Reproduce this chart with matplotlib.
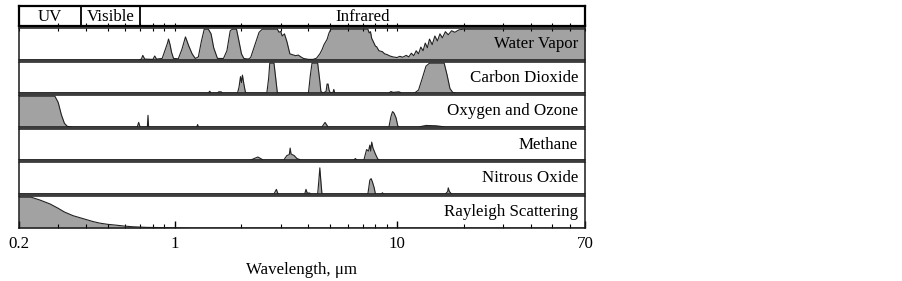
import matplotlib
matplotlib.use("Agg")
import matplotlib.pyplot as plt
from matplotlib.patches import Rectangle
from matplotlib.ticker import FixedLocator, NullFormatter, FixedFormatter

# ---------------- data (wavelength in micrometres, relative absorption 0..1) ----------------
water_wl = [0.2, 0.69, 0.71, 0.72, 0.735, 0.80, 0.815, 0.83, 0.88, 0.90, 0.93, 0.94, 0.955, 0.97,
            0.99, 1.04, 1.08, 1.12, 1.14, 1.16, 1.20, 1.24, 1.28, 1.32, 1.36, 1.42, 1.46, 1.50,
            1.56, 1.66, 1.72, 1.78, 1.82, 1.90, 1.95, 2.00, 2.05, 2.15, 2.20, 2.30, 2.40, 2.48,
            2.90, 2.95, 3.00, 3.05, 3.12, 3.20, 3.30, 3.40, 3.50, 3.60, 3.70, 3.80, 4.00, 4.20,
            4.35, 4.50, 4.60, 4.70, 4.85, 4.95, 5.05, 7.40, 7.50, 7.60, 7.70, 7.80, 8.00, 8.10,
            8.30, 8.60, 8.80, 9.00, 9.30, 9.60, 10.0, 10.3, 10.6, 11.0, 11.3, 11.6, 11.9, 12.2,
            12.5, 12.8, 13.1, 13.4, 13.7, 14.0, 14.4, 14.8, 15.2, 15.6, 16.0, 16.5, 17.0, 17.6,
            18.2, 19.0, 19.8, 70.0]
water_ab = [0.0, 0.0, 0.03, 0.15, 0.03, 0.02, 0.13, 0.03, 0.05, 0.25, 0.55, 0.68, 0.50, 0.25,
            0.05, 0.04, 0.35, 0.75, 0.60, 0.45, 0.20, 0.05, 0.10, 0.60, 1.0, 1.0, 0.85, 0.40,
            0.05, 0.05, 0.30, 0.95, 1.0, 1.0, 0.60, 0.20, 0.05, 0.03, 0.08, 0.50, 0.90, 1.0,
            1.0, 0.90, 0.93, 0.78, 0.85, 0.60, 0.20, 0.17, 0.14, 0.16, 0.10, 0.05, 0.02, 0.02,
            0.06, 0.20, 0.33, 0.50, 0.67, 0.88, 1.0, 1.0, 0.88, 0.92, 0.70, 0.62, 0.45, 0.43,
            0.30, 0.27, 0.20, 0.18, 0.13, 0.10, 0.08, 0.12, 0.09, 0.15, 0.10, 0.22, 0.14, 0.30,
            0.20, 0.42, 0.30, 0.55, 0.40, 0.68, 0.50, 0.78, 0.62, 0.85, 0.72, 0.92, 0.82, 0.95,
            0.90, 0.98, 1.0, 1.0]

co2_wl = [0.2, 1.42, 1.44, 1.46, 1.56, 1.58, 1.62, 1.64, 1.92, 1.95, 1.98, 2.00, 2.02, 2.05, 2.08,
          2.10, 2.60, 2.65, 2.68, 2.80, 2.85, 2.90, 4.00, 4.08, 4.15, 4.40, 4.50, 4.55, 4.65,
          4.80, 4.85, 4.90, 4.95, 5.00, 5.15, 5.20, 5.25, 9.20, 9.40, 9.60, 10.2, 10.5, 12.0,
          12.5, 13.0, 13.5, 14.0, 16.3, 16.8, 17.3, 17.8, 18.5, 70.0]
co2_ab = [0.0, 0.0, 0.06, 0.0, 0.0, 0.04, 0.04, 0.0, 0.0, 0.20, 0.55, 0.35, 0.60, 0.30, 0.05,
          0.0, 0.0, 0.50, 1.0, 1.0, 0.50, 0.0, 0.0, 0.60, 1.0, 1.0, 0.40, 0.05, 0.0,
          0.05, 0.30, 0.30, 0.10, 0.02, 0.0, 0.12, 0.0, 0.0, 0.05, 0.02, 0.04, 0.0, 0.0,
          0.10, 0.50, 0.90, 1.0, 1.0, 0.60, 0.15, 0.02, 0.0, 0.0]

o3_wl = [0.2, 0.29, 0.30, 0.31, 0.32, 0.33, 0.35, 0.68, 0.69, 0.70, 0.755, 0.76, 0.765, 1.26,
         1.27, 1.28, 4.60, 4.75, 4.90, 9.20, 9.40, 9.55, 9.70, 9.90, 10.1, 10.3, 12.5, 13.5,
         15.0, 16.5, 70.0]
o3_ab = [1.0, 1.0, 0.80, 0.40, 0.12, 0.02, 0.0, 0.0, 0.15, 0.0, 0.0, 0.38, 0.0, 0.0,
         0.08, 0.0, 0.0, 0.15, 0.0, 0.0, 0.35, 0.50, 0.45, 0.30, 0.02, 0.0, 0.0, 0.05,
         0.04, 0.0, 0.0]

ch4_wl = [0.2, 2.20, 2.30, 2.37, 2.45, 2.50, 3.10, 3.20, 3.28, 3.31, 3.34, 3.45, 3.55, 3.70,
          6.40, 6.50, 6.60, 7.10, 7.30, 7.45, 7.55, 7.62, 7.70, 7.80, 8.00, 8.20, 8.40, 70.0]
ch4_ab = [0.0, 0.0, 0.06, 0.10, 0.04, 0.0, 0.0, 0.15, 0.18, 0.40, 0.20, 0.15, 0.05, 0.0,
          0.0, 0.05, 0.0, 0.0, 0.35, 0.30, 0.50, 0.30, 0.60, 0.40, 0.20, 0.03, 0.0, 0.0]

n2o_wl = [0.2, 2.80, 2.87, 2.92, 3.85, 3.90, 3.95, 4.05, 4.10, 4.40, 4.45, 4.50, 4.55, 4.60,
          7.40, 7.55, 7.65, 7.75, 7.90, 8.00, 8.50, 8.60, 8.70, 16.5, 16.9, 17.0, 17.2, 17.6, 70.0]
n2o_ab = [0.0, 0.0, 0.15, 0.0, 0.0, 0.15, 0.03, 0.03, 0.0, 0.0, 0.40, 0.85, 0.40, 0.0,
          0.0, 0.45, 0.50, 0.40, 0.20, 0.0, 0.0, 0.04, 0.0, 0.0, 0.08, 0.20, 0.08, 0.0, 0.0]

ray_wl = [0.2, 0.227, 0.248, 0.276, 0.30, 0.32, 0.35, 0.39, 0.43, 0.46, 0.50, 0.55, 0.60,
          0.65, 0.75, 0.94, 1.2, 70.0]
ray_ab = [1.0, 1.0, 0.91, 0.78, 0.64, 0.52, 0.40, 0.30, 0.21, 0.16, 0.12, 0.09, 0.06,
          0.04, 0.02, 0.01, 0.0, 0.0]

gas_names = ["Water Vapor", "Carbon Dioxide", "Oxygen and Ozone", "Methane",
             "Nitrous Oxide", "Rayleigh Scattering"]
gas_wl = [water_wl, co2_wl, o3_wl, ch4_wl, n2o_wl, ray_wl]
gas_ab = [water_ab, co2_ab, o3_ab, ch4_ab, n2o_ab, ray_ab]

band_names = ["UV", "Visible", "Infrared"]
band_edges = [0.2, 0.38, 0.70, 70.0]

tick_vals = [0.2, 1, 10, 70]
tick_labels = ["0.2", "1", "10", "70"]
minor_vals = [0.3, 0.4, 0.5, 0.6, 0.7, 0.8, 0.9, 2, 3, 4, 5, 6, 7, 8, 9, 20, 30, 40, 50, 60]

# ---------------- figure ----------------
plt.rcParams["font.family"] = ["Liberation Serif", "DejaVu Serif"]
W, H = 902, 281
fig = plt.figure(figsize=(W / 100, H / 100), dpi=100)
L, R = 19 / W, 585 / W

def rect(top, bot):
    return [L, 1 - bot / H, R - L, (bot - top) / H]

fill_col = "#a2a2a2"
FS = 12.2
spine_col = "#1a1a1a"

# light grey band visible in the narrow gaps between the panels
fig.patches.append(Rectangle((L, 1 - 196 / H), R - L, (196 - 26) / H,
                             transform=fig.transFigure, facecolor="#b4b4b4",
                             edgecolor="none", zorder=-5))

# header
hax = fig.add_axes(rect(6, 26))
hax.set_xscale("log")
hax.set_xlim(0.2, 70)
hax.set_ylim(0, 1)
hax.set_yticks([])
for e in band_edges[1:-1]:
    hax.axvline(e, color="black", lw=1.3)
for i, nm in enumerate(band_names):
    c = (band_edges[i] * band_edges[i + 1]) ** 0.5
    hax.text(c, 0.47, nm, ha="center", va="center", fontsize=FS)
hax.xaxis.set_major_locator(FixedLocator(tick_vals))
hax.xaxis.set_minor_locator(FixedLocator(minor_vals))
hax.xaxis.set_major_formatter(NullFormatter())
hax.xaxis.set_minor_formatter(NullFormatter())
hax.tick_params(axis="x", which="both", direction="in", length=2, width=0.8)
for s in hax.spines.values():
    s.set_linewidth(1.6)

panels = [(28, 60), (62, 93), (95, 127), (129, 160), (162, 194), (196, 228)]
for k, (t, b) in enumerate(panels):
    ax = fig.add_axes(rect(t, b))
    ax.set_xscale("log")
    ax.set_xlim(0.2, 70)
    ax.set_ylim(0, 1.04)
    ax.set_yticks([])
    ax.fill_between(gas_wl[k], 0, gas_ab[k], color=fill_col, lw=0)
    ax.plot(gas_wl[k], gas_ab[k], color="#222222", lw=0.8)
    ax.text(0.988, 0.5, gas_names[k], transform=ax.transAxes, ha="right", va="center",
            fontsize=FS)
    ax.xaxis.set_major_locator(FixedLocator(tick_vals))
    ax.xaxis.set_minor_locator(FixedLocator(minor_vals))
    for s in ax.spines.values():
        s.set_linewidth(1.1)
        s.set_color(spine_col)
    if k == len(panels) - 1:
        ax.xaxis.set_major_formatter(FixedFormatter(tick_labels))
        ax.xaxis.set_minor_formatter(NullFormatter())
        ax.tick_params(axis="x", which="major", direction="in", length=5, width=1,
                       labelsize=FS, pad=6)
        ax.tick_params(axis="x", which="minor", direction="in", length=3, width=0.8)
        ax.set_xlabel("Wavelength, \u03bcm", fontsize=FS, labelpad=7)
    else:
        ax.xaxis.set_major_formatter(NullFormatter())
        ax.xaxis.set_minor_formatter(NullFormatter())
        if k == 0:
            ax.tick_params(axis="x", which="both", direction="in", length=2, width=0.8,
                           top=True, bottom=False)
        else:
            ax.tick_params(axis="x", which="both", length=0)

fig.savefig("out.png", dpi=100, facecolor="white")
